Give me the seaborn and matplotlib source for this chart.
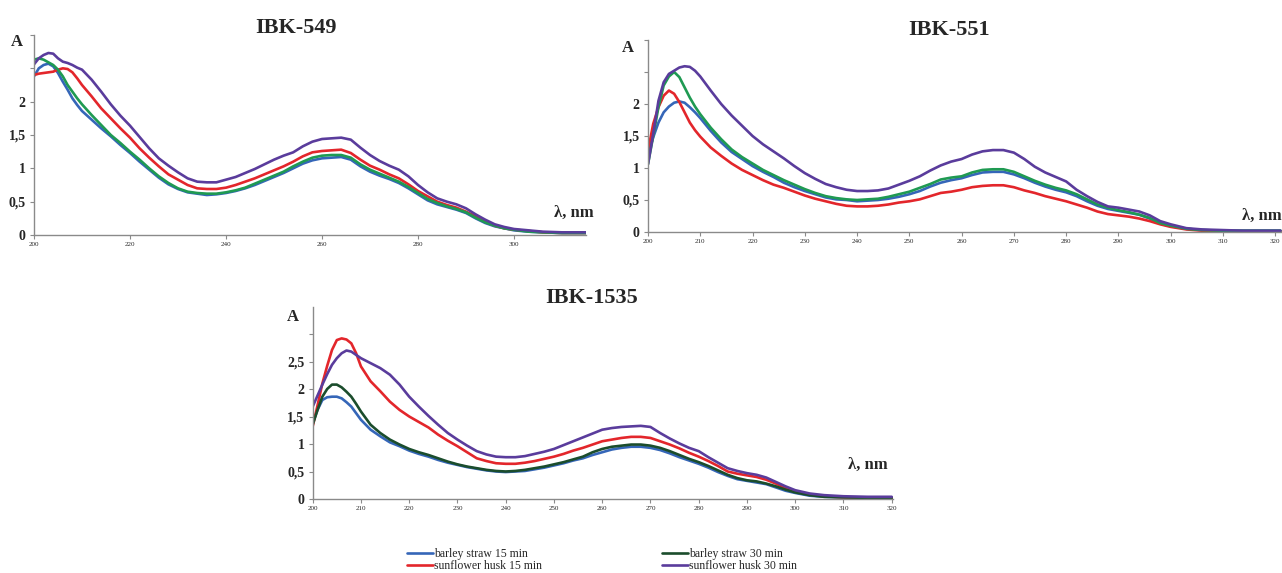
import numpy as np
import pandas as pd
import matplotlib
matplotlib.use("Agg")
import matplotlib.pyplot as plt
from matplotlib.lines import Line2D
import seaborn as sns

# ==========================================
# DATA
# ==========================================
wl_549 = [200, 201, 202, 203, 204, 205, 206, 207, 208, 209, 210,
          212, 214, 216, 218, 220, 222, 224, 226, 228, 230, 232, 234, 236, 238, 240,
          242, 244, 246, 248, 250, 252, 254, 256, 258, 260, 262, 264, 266, 268, 270,
          272, 274, 276, 278, 280, 282, 284, 286, 288, 290, 292, 294, 296, 298, 300,
          303, 306, 310, 315]
b15_549 = [2.38, 2.5, 2.55, 2.57, 2.53, 2.43, 2.3, 2.18, 2.05, 1.95, 1.86,
           1.73, 1.6, 1.48, 1.35, 1.23, 1.1, 0.98, 0.86, 0.76, 0.69, 0.64, 0.62, 0.6, 0.61, 0.63,
           0.66, 0.7, 0.75, 0.81, 0.87, 0.93, 1.0, 1.07, 1.12, 1.15, 1.16, 1.17, 1.13, 1.03, 0.95,
           0.89, 0.84, 0.78, 0.7, 0.61, 0.52, 0.46, 0.42, 0.38, 0.33, 0.25, 0.18, 0.13, 0.1, 0.07,
           0.05, 0.04, 0.03, 0.03]
s15_549 = [2.4, 2.42, 2.43, 2.44, 2.45, 2.48, 2.5, 2.49, 2.44, 2.35, 2.25,
           2.08, 1.9, 1.75, 1.6, 1.46, 1.3, 1.16, 1.03, 0.91, 0.83, 0.75, 0.7, 0.69, 0.69, 0.71,
           0.75, 0.8, 0.85, 0.91, 0.97, 1.03, 1.1, 1.18, 1.24, 1.26, 1.27, 1.28, 1.23, 1.13, 1.04,
           0.98, 0.91, 0.85, 0.76, 0.66, 0.58, 0.5, 0.45, 0.41, 0.35, 0.28, 0.2, 0.14, 0.1, 0.08,
           0.06, 0.04, 0.03, 0.03]
b30_549 = [2.63, 2.65, 2.63, 2.59, 2.55, 2.48, 2.38, 2.25, 2.15, 2.05, 1.96,
           1.8, 1.65, 1.5, 1.38, 1.25, 1.13, 1.0, 0.88, 0.78, 0.7, 0.65, 0.63, 0.62, 0.62, 0.64,
           0.67, 0.71, 0.77, 0.83, 0.89, 0.95, 1.03, 1.1, 1.16, 1.19, 1.2, 1.2, 1.16, 1.06, 0.98,
           0.92, 0.86, 0.8, 0.72, 0.63, 0.54, 0.48, 0.43, 0.39, 0.34, 0.26, 0.19, 0.14, 0.1, 0.08,
           0.05, 0.04, 0.03, 0.03]
s30_549 = [2.56, 2.65, 2.7, 2.73, 2.72, 2.65, 2.6, 2.58, 2.55, 2.51, 2.48,
           2.33, 2.15, 1.96, 1.79, 1.64, 1.47, 1.3, 1.15, 1.04, 0.94, 0.85, 0.8, 0.79, 0.79, 0.83,
           0.87, 0.93, 0.99, 1.06, 1.13, 1.19, 1.24, 1.33, 1.4, 1.44, 1.45, 1.46, 1.43, 1.31, 1.2,
           1.11, 1.04, 0.98, 0.88, 0.75, 0.64, 0.55, 0.5, 0.46, 0.4, 0.31, 0.23, 0.16, 0.12, 0.09,
           0.07, 0.05, 0.04, 0.04]

wl_551 = [200, 201, 202, 203, 204, 205, 206, 207, 208, 209, 210,
          212, 214, 216, 218, 220, 222, 224, 226, 228, 230, 232, 234, 236, 238, 240,
          242, 244, 246, 248, 250, 252, 254, 256, 258, 260, 262, 264, 266, 268, 270,
          272, 274, 276, 278, 280, 282, 284, 286, 288, 290, 292, 294, 296, 298, 300,
          303, 306, 310, 314, 321]
b15_551 = [1.21, 1.48, 1.71, 1.87, 1.96, 2.02, 2.04, 2.02, 1.95, 1.87, 1.78,
           1.58, 1.4, 1.25, 1.14, 1.03, 0.94, 0.86, 0.77, 0.7, 0.64, 0.59, 0.54, 0.51, 0.5, 0.48,
           0.49, 0.5, 0.52, 0.55, 0.59, 0.64, 0.71, 0.77, 0.81, 0.84, 0.89, 0.93, 0.94, 0.94, 0.9,
           0.84, 0.77, 0.71, 0.66, 0.62, 0.56, 0.48, 0.41, 0.36, 0.33, 0.3, 0.27, 0.21, 0.13, 0.09,
           0.05, 0.03, 0.02, 0.02, 0.02]
s15_551 = [1.27, 1.69, 1.95, 2.13, 2.21, 2.16, 2.03, 1.87, 1.71, 1.59, 1.49,
           1.32, 1.19, 1.07, 0.97, 0.89, 0.81, 0.74, 0.69, 0.63, 0.57, 0.52, 0.48, 0.44, 0.41, 0.4,
           0.4, 0.41, 0.43, 0.46, 0.48, 0.51, 0.56, 0.61, 0.63, 0.66, 0.7, 0.72, 0.73, 0.73, 0.7,
           0.65, 0.61, 0.56, 0.52, 0.48, 0.43, 0.38, 0.32, 0.28, 0.26, 0.24, 0.21, 0.17, 0.12, 0.08,
           0.04, 0.02, 0.01, 0.01, 0.01]
b30_551 = [1.06, 1.5, 1.95, 2.29, 2.43, 2.5, 2.42, 2.26, 2.1, 1.96, 1.84,
           1.63, 1.45, 1.29, 1.17, 1.07, 0.97, 0.89, 0.81, 0.74, 0.67, 0.61, 0.56, 0.53, 0.51, 0.5,
           0.51, 0.52, 0.55, 0.59, 0.63, 0.69, 0.75, 0.82, 0.85, 0.87, 0.93, 0.97, 0.98, 0.98, 0.94,
           0.87, 0.8, 0.74, 0.69, 0.65, 0.59, 0.51, 0.43, 0.38, 0.34, 0.31, 0.27, 0.22, 0.14, 0.1,
           0.05, 0.03, 0.02, 0.02, 0.02]
s30_551 = [1.06, 1.53, 2.05, 2.34, 2.47, 2.52, 2.57, 2.59, 2.58, 2.52, 2.43,
           2.21, 2.0, 1.82, 1.66, 1.5, 1.37, 1.26, 1.15, 1.03, 0.92, 0.83, 0.75, 0.7, 0.66, 0.64,
           0.64, 0.65, 0.68, 0.74, 0.8, 0.87, 0.96, 1.04, 1.1, 1.14, 1.21, 1.26, 1.28, 1.28, 1.24,
           1.14, 1.02, 0.93, 0.86, 0.79, 0.66, 0.56, 0.47, 0.4, 0.38, 0.35, 0.32, 0.26, 0.17, 0.12,
           0.06, 0.04, 0.03, 0.02, 0.02]

wl_1535 = [200, 201, 202, 203, 204, 205, 206, 207, 208, 209, 210,
           212, 214, 216, 218, 220, 222, 224, 226, 228, 230, 232, 234, 236, 238, 240,
           242, 244, 246, 248, 250, 252, 254, 256, 258, 260, 262, 264, 266, 268, 270,
           272, 274, 276, 278, 280, 282, 284, 286, 288, 290, 292, 294, 296, 298, 300,
           303, 306, 310, 315, 320]
b15_1535 = [1.38, 1.62, 1.8, 1.85, 1.86, 1.86, 1.83, 1.76, 1.68, 1.56, 1.44,
            1.26, 1.14, 1.03, 0.96, 0.88, 0.82, 0.77, 0.71, 0.66, 0.62, 0.58, 0.55, 0.52, 0.5, 0.49,
            0.5, 0.51, 0.54, 0.57, 0.61, 0.65, 0.7, 0.74, 0.8, 0.85, 0.9, 0.93, 0.95, 0.95, 0.93,
            0.89, 0.83, 0.76, 0.7, 0.64, 0.57, 0.49, 0.42, 0.36, 0.33, 0.3, 0.27, 0.21, 0.15, 0.11,
            0.06, 0.04, 0.03, 0.02, 0.02]
s15_1535 = [1.32, 1.7, 2.1, 2.42, 2.71, 2.89, 2.92, 2.9, 2.83, 2.65, 2.41,
            2.14, 1.96, 1.77, 1.62, 1.5, 1.4, 1.3, 1.17, 1.06, 0.96, 0.85, 0.74, 0.69, 0.65, 0.64,
            0.64, 0.66, 0.69, 0.73, 0.77, 0.82, 0.88, 0.93, 0.99, 1.05, 1.08, 1.11, 1.13, 1.13, 1.11,
            1.05, 0.99, 0.92, 0.84, 0.77, 0.69, 0.6, 0.5, 0.46, 0.43, 0.4, 0.35, 0.28, 0.2, 0.14,
            0.08, 0.05, 0.03, 0.02, 0.02]
b30_1535 = [1.35, 1.62, 1.86, 2.0, 2.08, 2.08, 2.03, 1.95, 1.86, 1.73, 1.59,
            1.35, 1.2, 1.08, 0.99, 0.91, 0.85, 0.8, 0.74, 0.68, 0.63, 0.59, 0.56, 0.53, 0.51, 0.5,
            0.51, 0.53, 0.56, 0.59, 0.63, 0.67, 0.72, 0.77, 0.85, 0.91, 0.95, 0.97, 0.99, 0.99, 0.97,
            0.93, 0.87, 0.8, 0.73, 0.67, 0.6, 0.52, 0.44, 0.38, 0.34, 0.32, 0.28, 0.23, 0.17, 0.12,
            0.07, 0.04, 0.03, 0.02, 0.02]
s30_1535 = [1.68, 1.88, 2.08, 2.27, 2.44, 2.56, 2.65, 2.7, 2.68, 2.62, 2.56,
            2.47, 2.38, 2.26, 2.08, 1.86, 1.68, 1.51, 1.35, 1.2, 1.08, 0.97, 0.87, 0.81, 0.77, 0.76,
            0.76, 0.78, 0.82, 0.86, 0.91, 0.98, 1.05, 1.12, 1.19, 1.26, 1.29, 1.31, 1.32, 1.33, 1.31,
            1.2, 1.1, 1.01, 0.93, 0.87, 0.76, 0.66, 0.56, 0.51, 0.47, 0.44, 0.39, 0.31, 0.23, 0.16,
            0.1, 0.07, 0.05, 0.04, 0.04]

series_labels = ["barley straw 15 min", "sunflower husk 15 min",
                 "barley straw 30 min", "sunflower husk 30 min"]

# ==========================================
# STYLE
# ==========================================
sns.set_style("white")
plt.rcParams['font.family'] = ['Liberation Serif', 'DejaVu Serif']

c_blue = "#3566b8"
c_red = "#e3262b"
c_green = "#1f9a52"
c_dkgreen = "#1b4d2c"
c_purple = "#5a3c9c"
axis_grey = "#8a8a8a"

fig = plt.figure(figsize=(12.82, 5.73), dpi=100)

panels = [
    # title, wl, series, axes rect, xlim, ylim, xticks, ytick labels, title pos, A pos, lambda pos, green
    ("IBK-549", wl_549, [b15_549, s15_549, b30_549, s30_549],
     [34 / 1282, 338 / 573, 552 / 1282, 200 / 573], (200, 315), (0, 3),
     np.arange(200, 301, 20), ["0", "0,5", "1", "1,5", "2", "", ""],
     (296 / 1282, 1 - 28 / 573), (-0.031, 0.965), (0.942, 0.11), c_green),
    ("IBK-551", wl_551, [b15_551, s15_551, b30_551, s30_551],
     [648 / 1282, 341 / 573, 634 / 1282, 192 / 573], (200, 321.3), (0, 3),
     np.arange(200, 321, 10), ["0", "0,5", "1", "1,5", "2", "", ""],
     (949 / 1282, 1 - 30 / 573), (-0.0315, 0.958), (0.937, 0.083), c_green),
    ("IBK-1535", wl_1535, [b15_1535, s15_1535, b30_1535, s30_1535],
     [312.7 / 1282, 74 / 573, 580 / 1282, 192.5 / 573], (200, 320.2), (0, 3.5),
     np.arange(200, 321, 10), ["0", "0,5", "1", "1,5", "2", "2,5", ""],
     (592 / 1282, 1 - 298 / 573), (-0.034, 0.948), (0.923, 0.175), c_dkgreen),
]

for (title, wl, series, rect, xlim, ylim, xticks, ylabels,
     tpos, apos, lpos, green) in panels:
    ax = fig.add_axes(rect)
    colors = [c_blue, c_red, green, c_purple]
    for vals, col in zip(series, colors):
        sns.lineplot(x=wl, y=vals, ax=ax, color=col, linewidth=1.9,
                     estimator=None, sort=False, legend=False)

    ax.set_xlim(*xlim)
    ax.set_ylim(*ylim)
    ax.set_xticks(xticks)
    ax.set_xticklabels([str(t) for t in xticks], fontsize=5)
    yt = np.arange(0, 3.01, 0.5)
    ax.set_yticks(yt)
    ax.set_yticklabels(ylabels, fontsize=10, fontweight="bold")
    ax.tick_params(axis="both", direction="out", length=3, width=0.8,
                   color=axis_grey, pad=3, left=True, bottom=True)
    ax.tick_params(axis="x", pad=2)
    for side in ["top", "right"]:
        ax.spines[side].set_visible(False)
    for side in ["left", "bottom"]:
        ax.spines[side].set_color(axis_grey)
        ax.spines[side].set_linewidth(1.0)
    ax.set_xlabel("")
    ax.set_ylabel("")

    ax.text(apos[0], apos[1], "A", transform=ax.transAxes, fontsize=12,
            fontweight="bold", ha="center", va="center")
    ax.text(lpos[0], lpos[1], "λ, nm", transform=ax.transAxes, fontsize=12,
            fontweight="bold", ha="left", va="center", clip_on=False)
    fig.text(tpos[0], tpos[1], title, fontsize=16, fontweight="bold",
             ha="center", va="center")

handles = [Line2D([], [], color=c, linewidth=1.9)
           for c in [c_blue, c_red, c_dkgreen, c_purple]]
fig.legend(handles, series_labels, loc="center", ncol=2,
           bbox_to_anchor=(602 / 1282, 1 - 560 / 573), frameon=False,
           fontsize=8.5, handlelength=2.2, handletextpad=0.1,
           columnspacing=10.1, labelspacing=0.0, borderpad=0.0)

fig.savefig("out.png", dpi=100)
